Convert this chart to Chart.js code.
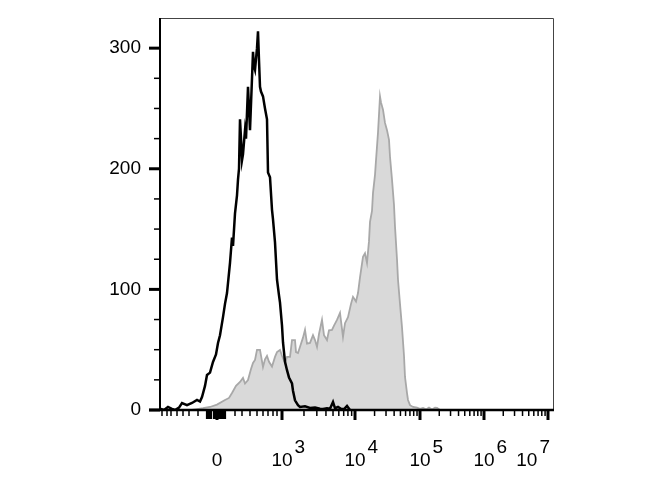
<!DOCTYPE html>
<html>
<head>
<meta charset="utf-8">
<script src="https://cdn.jsdelivr.net/npm/chart.js@4.4.1/dist/chart.umd.min.js"></script>
<style>
  html, body { margin: 0; padding: 0; background: #fff; }
  #wrap { width: 670px; height: 500px; }
</style>
</head>
<body>
<div id="wrap"><canvas id="histChart" width="670" height="500"></canvas></div>
<script>
// display channel (0 = zero of the biexponential axis)
const unstainedX = [-57, -53, -49, -45, -42, -38, -35, -30, -25, -20, -17, -15, -12, -10, -7, -4, -1, 1, 3, 6, 8, 10,
  13, 15, 16, 18, 20, 21, 22, 23, 24, 25, 26, 28, 29, 31, 32, 33, 35, 36, 37, 38, 40, 41, 42, 43, 44, 46, 48, 50,
  51, 53, 55, 56, 58, 60, 62, 63, 65, 66, 68, 70, 72, 75, 76, 78, 81, 83, 88, 93, 98, 103, 106, 110, 113, 116, 118,
  121, 124, 127, 130, 133];
const unstainedY = [1, 0, 2.5, 1, 0, 2, 5.8, 4, 5.8, 8.3, 7, 10.8, 20, 29, 31, 39.8, 46, 55.6, 62, 77, 88, 97,
  122, 143, 136, 163, 178, 191, 200, 241, 225, 207, 212, 232, 225, 268, 250, 232, 275, 297, 285, 282, 300, 314, 290, 268, 264, 260, 250, 241,
  197, 193, 166, 158, 139, 108, 95, 89, 70, 56, 40, 33, 27, 22, 16, 8, 4, 2.5, 3, 1.7, 2, 1, 0.8, 1.5, 1, 6.6, 1.5,
  2.5, 1, 0.8, 3.3, 0];

const stainedX = [-25, -20, -14, -7, 0, 8, 12, 15, 19, 23, 26, 28, 31, 34, 36, 38, 40, 43, 46, 48, 50, 52, 55, 58, 60,
  63, 65, 68, 70, 73, 75, 78, 79, 81, 84, 86, 88, 90, 93, 96, 98, 100, 102, 105, 107, 110, 112, 115, 117, 120, 123,
  126, 128, 131, 134, 136, 139, 141, 143, 146, 148, 150, 152, 153, 155, 156, 158, 159, 161, 163, 164, 166, 168, 170,
  172, 173, 175, 177, 178, 180, 181, 183, 185, 187, 188, 190, 191, 193, 196, 200, 203, 206, 209, 212, 215, 218, 220, 223];
const stainedY = [0, 0.8, 1.5, 2.5, 4.5, 8.3, 10, 14.1, 20, 23.2, 26.6, 22, 24.9, 34, 39, 41.5, 49.8, 49.8, 35.7, 42, 44.8, 40, 36, 44, 48,
  49.8, 45, 39, 44, 44, 58, 58, 48, 47.3, 55, 60, 66.4, 55, 55.6, 62, 58, 52.3, 63, 74.7, 62, 58, 66, 66.4, 70, 74.7, 80.5,
  60.6, 72, 77, 88, 93.8, 90, 97, 110, 127, 130, 122, 140, 156, 165, 180, 195, 207, 230, 260, 255, 249, 238, 232,
  224, 210, 191, 170, 152, 125, 108, 88, 68.5, 45, 27.4, 14, 8.3, 4, 2.5, 2, 1, 1.7, 0.5, 2, 0.5, 2, 1.7, 0];

// axis: decade positions in display channels and their exponents
const decadePos = [0, 65, 138, 203, 267, 331];
const decadeExp = ['', '3', '4', '5', '6', '7'];
const linearMinorTicks = [-55, -50, -46, -40, -34, -28, -19, 18, 25, 33, 40, 46, 51, 56, 60];
const zeroClusterTicks = [-10, -8, -6, -3, -1, 2, 4, 6, 8];
const yLabelTicks = [0, 100, 200, 300];

const FONT = 'Arial, "Liberation Sans", sans-serif';

const axesPlugin = {
    id: 'flowAxes',
    afterDraw(chart) {
        const ctx = chart.ctx;
        const area = chart.chartArea;
        const xs = chart.scales.x;
        const ys = chart.scales.y;
        ctx.save();

        // frame
        ctx.strokeStyle = '#444';
        ctx.lineWidth = 1;
        ctx.beginPath();
        ctx.moveTo(area.left, area.top + 0.5);
        ctx.lineTo(area.right + 0.5, area.top + 0.5);
        ctx.lineTo(area.right + 0.5, area.bottom);
        ctx.stroke();

        ctx.strokeStyle = '#000';
        ctx.lineWidth = 2;
        ctx.beginPath();
        ctx.moveTo(area.left, area.top);
        ctx.lineTo(area.left, area.bottom);
        ctx.stroke();
        ctx.lineWidth = 2.5;
        ctx.beginPath();
        ctx.moveTo(area.left - 11, area.bottom);
        ctx.lineTo(area.right + 1, area.bottom);
        ctx.stroke();

        // y ticks
        for (let v = 0; v <= 300; v += 25) {
            const py = ys.getPixelForValue(v);
            const major = v % 100 === 0;
            ctx.lineWidth = major ? 3 : 1.5;
            ctx.beginPath();
            ctx.moveTo(area.left - (major ? 11 : 6), py);
            ctx.lineTo(area.left, py);
            ctx.stroke();
        }

        // x ticks
        const tick = (v, len, w) => {
            const px = xs.getPixelForValue(v);
            ctx.lineWidth = w;
            ctx.beginPath();
            ctx.moveTo(px, area.bottom);
            ctx.lineTo(px, area.bottom + len);
            ctx.stroke();
        };
        linearMinorTicks.forEach(v => tick(v, 6, 1.5));
        zeroClusterTicks.forEach(v => tick(v, 9, 2.2));
        for (let d = 1; d < decadePos.length - 1; d++) {
            for (let m = 2; m <= 9; m++) {
                tick(decadePos[d] + (decadePos[d + 1] - decadePos[d]) * Math.log10(m), 6, 1.5);
            }
        }
        decadePos.forEach(v => tick(v, 10, 3));

        // x labels with superscripts
        ctx.fillStyle = '#000';
        ctx.font = '19px ' + FONT;
        ctx.textBaseline = 'alphabetic';
        decadePos.forEach((v, i) => {
            const px = xs.getPixelForValue(v);
            if (!decadeExp[i]) {
                ctx.textAlign = 'center';
                ctx.fillText('0', px, 466);
                return;
            }
            const baseW = ctx.measureText('10').width;
            const expW = ctx.measureText(decadeExp[i]).width;
            let left = px - baseW / 2;
            const rightEnd = left + baseW + 2 + expW;
            if (rightEnd > area.right + 4) left -= rightEnd - (px + 2);
            ctx.textAlign = 'left';
            ctx.fillText('10', left, 466);
            ctx.fillText(decadeExp[i], left + baseW + 2, 453);
        });
        ctx.restore();
    }
};

window.onload = function () {
    const ctx = document.getElementById('histChart').getContext('2d');
    new Chart(ctx, {
        type: 'line',
        data: {
            datasets: [
                {
                    label: 'Unstained',
                    data: unstainedX.map((x, i) => ({ x: x, y: unstainedY[i] })),
                    borderColor: '#000',
                    borderWidth: 2.5,
                    pointRadius: 0,
                    tension: 0,
                    fill: false
                },
                {
                    label: 'Stained',
                    data: stainedX.map((x, i) => ({ x: x, y: stainedY[i] })),
                    borderColor: '#a8a8a8',
                    backgroundColor: '#d9d9d9',
                    borderWidth: 1.8,
                    pointRadius: 0,
                    tension: 0,
                    fill: 'origin'
                }
            ]
        },
        options: {
            responsive: false,
            animation: false,
            layout: { padding: { top: 18, right: 117, left: 0, bottom: 0 } },
            plugins: {
                legend: { display: false },
                tooltip: { enabled: false }
            },
            scales: {
                x: {
                    type: 'linear',
                    min: -57,
                    max: 336,
                    grid: { display: false },
                    border: { display: false },
                    ticks: { display: false },
                    afterFit: s => { s.height = 90; s.paddingLeft = 0; s.paddingRight = 0; }
                },
                y: {
                    min: 0,
                    max: 325,
                    grid: { display: false },
                    border: { display: false },
                    afterBuildTicks: s => { s.ticks = yLabelTicks.map(v => ({ value: v })); },
                    ticks: {
                        color: '#000',
                        padding: 11,
                        font: { family: FONT, size: 19 }
                    },
                    afterFit: s => { s.width = 160; s.paddingTop = 0; s.paddingBottom = 0; }
                }
            }
        },
        plugins: [axesPlugin]
    });
};
</script>
</body>
</html>
